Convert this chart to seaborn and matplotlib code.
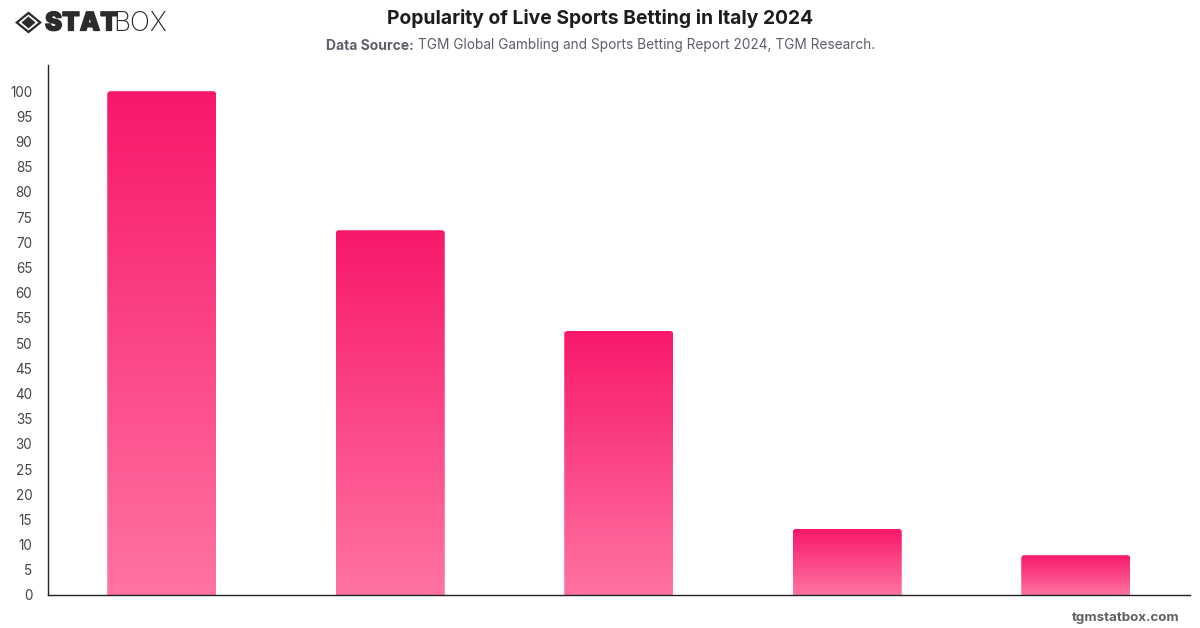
import matplotlib
matplotlib.use("Agg")
import matplotlib.patheffects as pe
import matplotlib.pyplot as plt
import numpy as np
import pandas as pd
import seaborn as sns
from matplotlib.colors import LinearSegmentedColormap
from matplotlib.patches import PathPatch, Polygon
from matplotlib.path import Path

# Survey responses; the category names are not printed on the axis
categories = ["A", "B", "C", "D", "E"]
popularity = [100, 72.4, 52.4, 13.1, 7.9]
y_ticks = list(range(0, 105, 5))

TITLE = "Popularity of Live Sports Betting in Italy 2024"
SOURCE_BOLD = "Data Source:"
SOURCE_TEXT = "TGM Global Gambling and Sports Betting Report 2024, TGM Research."
SITE = "tgmstatbox.com"

W, H = 1200, 628
sns.set_theme(style="white")
plt.rcParams["font.family"] = ["Inter", "DejaVu Sans"]

fig = plt.figure(figsize=(W / 100, H / 100), dpi=100, facecolor="white")
ax = fig.add_axes([47.5 / W, 1 - 595 / H, (1190 - 47.5) / W, 530 / H])

df = pd.DataFrame({"category": categories, "popularity": popularity})
sns.barplot(data=df, x="category", y="popularity", width=0.477, ax=ax, color="#F8186B")

ax.set_xlim(-0.5, 4.5)
ax.set_ylim(0, 105.2)
ax.set_xlabel("")
ax.set_ylabel("")
ax.set_xticks([])
ax.set_yticks(y_ticks)
ax.tick_params(axis="y", length=0, pad=11, labelsize=9.7, labelcolor="#444444")
sns.despine(ax=ax)
for side in ("left", "bottom"):
    ax.spines[side].set_color("#222222")
    ax.spines[side].set_linewidth(1.0)
    ax.spines[side].set_zorder(5)

# Vertical pink fade inside each bar, with slightly rounded upper corners
fade = LinearSegmentedColormap.from_list("fade", ["#F8186B", "#FF73A3"])
ramp = np.linspace(0, 1, 256).reshape(-1, 1)
px_x = (1190 - 47.5) / 5
px_y = 530 / 105.2
rx, ry = 3 / px_x, 3 / px_y
for bar in list(ax.patches):
    x0, x1 = bar.get_x(), bar.get_x() + bar.get_width()
    top = bar.get_height()
    bar.set_visible(False)
    outline = Path(
        [(x0, 0), (x0, top - ry), (x0, top), (x0 + rx, top), (x1 - rx, top),
         (x1, top), (x1, top - ry), (x1, 0), (x0, 0)],
        [Path.MOVETO, Path.LINETO, Path.CURVE3, Path.CURVE3, Path.LINETO,
         Path.CURVE3, Path.CURVE3, Path.LINETO, Path.CLOSEPOLY],
    )
    clip = PathPatch(outline, transform=ax.transData, facecolor="none", edgecolor="none")
    ax.add_patch(clip)
    img = ax.imshow(ramp, cmap=fade, extent=(x0, x1, 0, top), origin="upper",
                    aspect="auto", interpolation="bilinear", zorder=2)
    img.set_clip_path(clip)
ax.set_xlim(-0.5, 4.5)
ax.set_ylim(0, 105.2)

# Header and footer text
fig.text(600 / W, 1 - 18.5 / H, TITLE, ha="center", va="center", fontsize=13.9,
         fontweight="bold", color="#1d1d1f")
fig.text(326 / W, 1 - 45.5 / H, SOURCE_BOLD, ha="left", va="center",
         fontsize=10.05, fontweight="bold", color="#5f5f6b")
fig.text(418.5 / W, 1 - 45.5 / H, SOURCE_TEXT, ha="left", va="center",
         fontsize=9.85, color="#5f5f6b")
fig.text(1180 / W, 1 - 618 / H, SITE, ha="right", va="center", fontsize=9.6,
         fontweight="bold", color="#5f5f63")

# Brand mark: nested diamond and wordmark
def px_poly(points, **kw):
    pts = [(x / W, 1 - y / H) for x, y in points]
    fig.add_artist(Polygon(pts, closed=True, transform=fig.transFigure, linewidth=0, **kw))

px_poly([(15, 22.5), (28.5, 11.5), (42, 22.5), (28.5, 33.5)], facecolor="#2b2b2e")
px_poly([(18.5, 22.5), (28.5, 14.5), (38.5, 22.5), (28.5, 30.5)], facecolor="white")
px_poly([(21.5, 22.5), (28.5, 16.5), (35.5, 22.5), (28.5, 28.5)], facecolor="#2b2b2e")
fig.text(45 / W, 1 - 24 / H, "STAT", ha="left", va="center", fontsize=18.5,
         fontweight="black", color="#2b2b2e",
         path_effects=[pe.withStroke(linewidth=0.9, foreground="#2b2b2e")])
fig.text(113 / W, 1 - 24 / H, "BOX", ha="left", va="center", fontsize=19,
         fontweight="light", color="#2b2b2e")

fig.savefig("out.png", dpi=100, facecolor="white")
